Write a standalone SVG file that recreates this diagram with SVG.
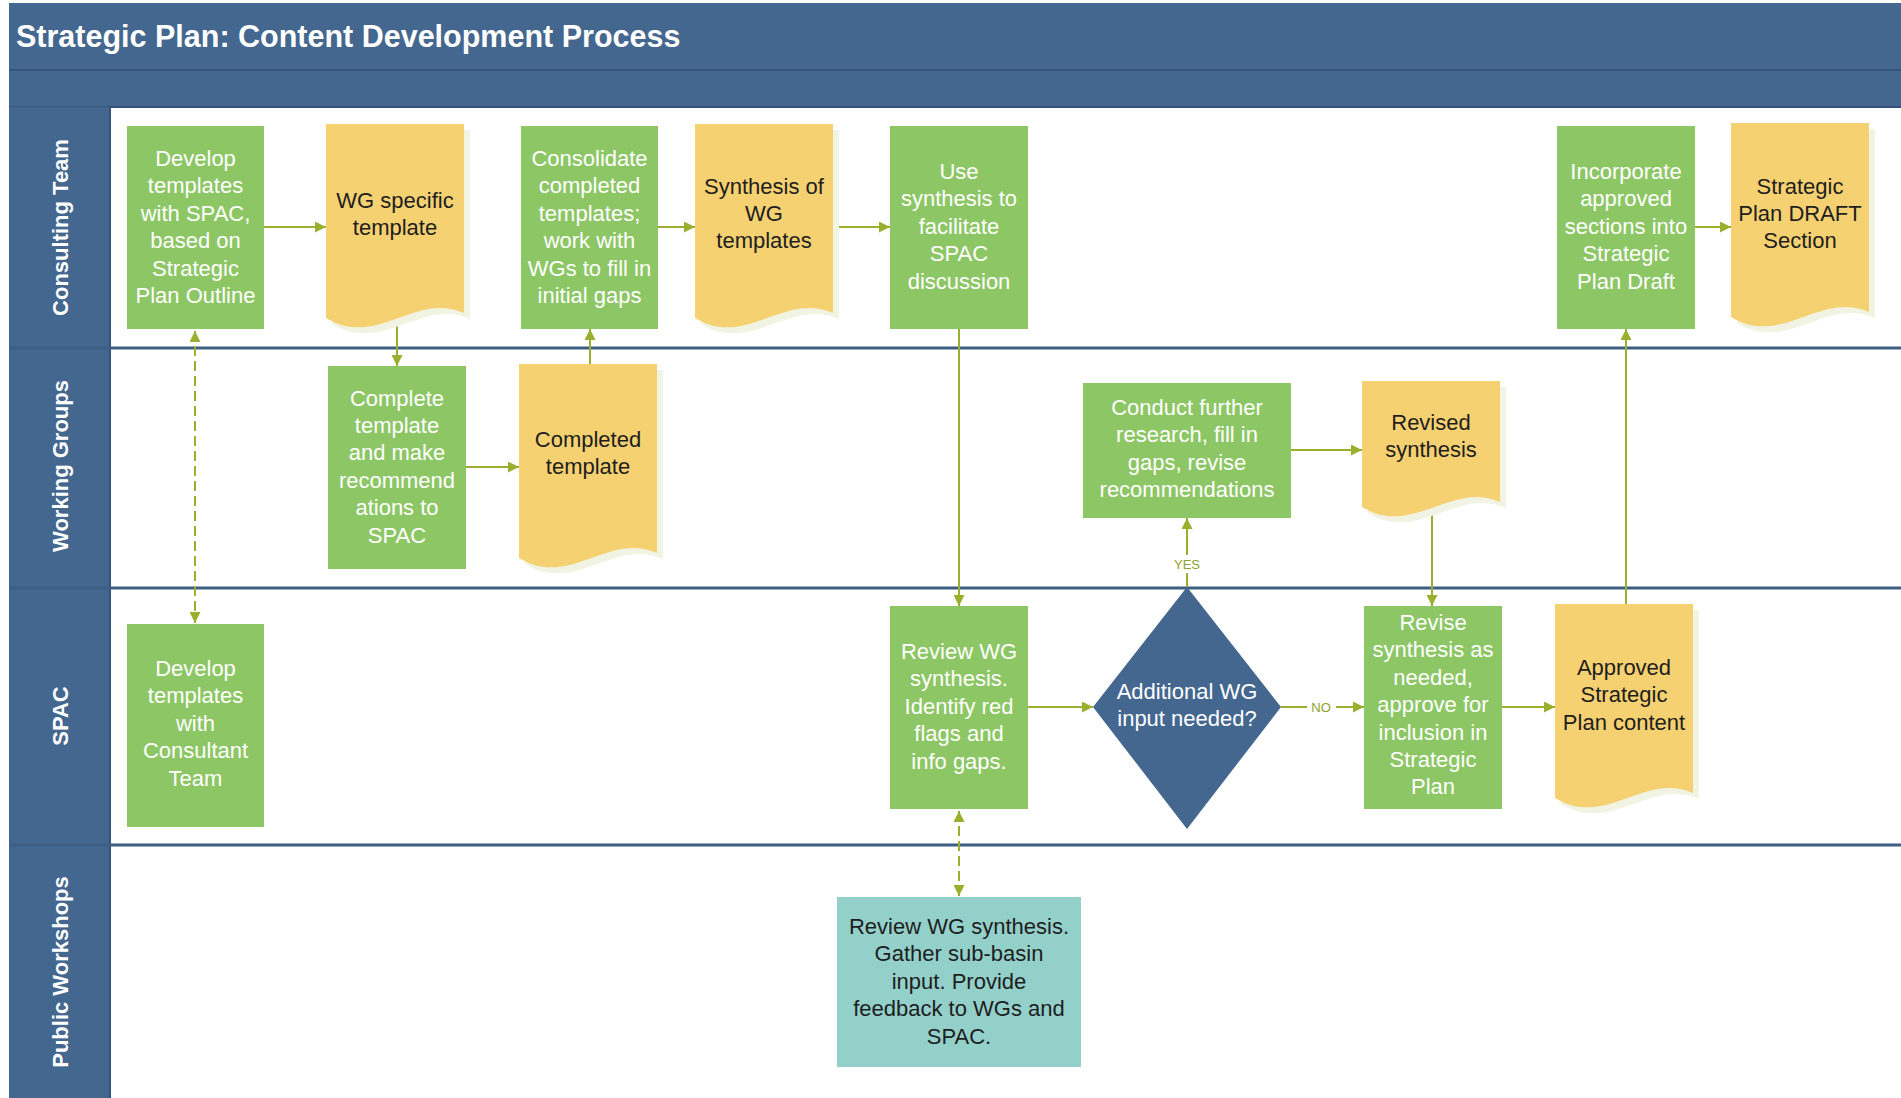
<svg xmlns="http://www.w3.org/2000/svg" width="1901" height="1098" viewBox="0 0 1901 1098">
<style>
.bar{fill:#44678F}
.green{fill:#8DC665}
.doc{fill:#F5D171}
.sh{fill:#F1F3E3}
.teal{fill:#93D0CA}
.dia{fill:#44678F}
.lane{stroke:#3E5E84;stroke-width:3}
.wt{fill:#FFFFFF;font-family:"Liberation Sans",Arial,sans-serif;font-size:22px;text-anchor:middle}
.dk{fill:#1E1E1E;font-family:"Liberation Sans",Arial,sans-serif;font-size:22px;text-anchor:middle}
.hd{fill:#FFFFFF;font-family:"Liberation Sans",Arial,sans-serif;font-size:22px;font-weight:bold;text-anchor:middle}
.ttl{fill:#FFFFFF;font-family:"Liberation Sans",Arial,sans-serif;font-size:30.5px;font-weight:bold}
.con{fill:none;stroke:#9AAF2D;stroke-width:2}
.dash{stroke-dasharray:10 5}
.lbl{fill:#8FA22B;font-family:"Liberation Sans",Arial,sans-serif;font-size:13px;text-anchor:middle}
</style>
<defs>
<marker id="ah" markerUnits="userSpaceOnUse" markerWidth="11" markerHeight="11" refX="11" refY="5.5" orient="auto-start-reverse" viewBox="0 0 11 11">
<path d="M0,0 L11,5.5 L0,11 z" fill="#9AAF2D"/>
</marker>
<path id="docL" d="M0,0 h138 v189 c-48,-22 -88,36 -138,5 z"/>
<path id="docS" d="M0,0 h138 v121 c-48,-22 -88,36 -138,5 z"/>
</defs>

<rect x="0" y="0" width="1901" height="1098" fill="#FFFFFF"/>

<g id="frame">
<rect class="bar" x="9" y="3" width="1892" height="104"/>
<line x1="9" y1="70" x2="1901" y2="70" stroke="#35557A" stroke-width="2"/>
<line x1="9" y1="107" x2="1901" y2="107" stroke="#35557A" stroke-width="2"/>
<text class="ttl" x="16" y="47">Strategic Plan: Content Development Process</text>
<rect class="bar" x="9" y="107" width="101" height="991"/>
<line x1="110" y1="107" x2="110" y2="1098" stroke="#35557A" stroke-width="2"/>
<line class="lane" x1="9" y1="348" x2="1901" y2="348"/>
<line class="lane" x1="9" y1="588" x2="1901" y2="588"/>
<line class="lane" x1="9" y1="845" x2="1901" y2="845"/>
<text class="hd" transform="translate(68,227.5) rotate(-90)">Consulting Team</text>
<text class="hd" transform="translate(68,466) rotate(-90)">Working Groups</text>
<text class="hd" transform="translate(68,716) rotate(-90)">SPAC</text>
<text class="hd" transform="translate(68,972) rotate(-90)">Public Workshops</text>
</g>

<g id="connectors">
<path class="con" d="M264,227 H326" marker-end="url(#ah)"/>
<path class="con" d="M397,322 V366" marker-end="url(#ah)"/>
<path class="con" d="M466,467 H519" marker-end="url(#ah)"/>
<path class="con" d="M590,364 V329" marker-end="url(#ah)"/>
<path class="con" d="M658,227 H695" marker-end="url(#ah)"/>
<path class="con" d="M839,227 H890" marker-end="url(#ah)"/>
<path class="con" d="M959,329 V606" marker-end="url(#ah)"/>
<path class="con" d="M1028,707 H1093" marker-end="url(#ah)"/>
<path class="con" d="M1187,587 V518" marker-end="url(#ah)"/>
<path class="con" d="M1291,450 H1362" marker-end="url(#ah)"/>
<path class="con" d="M1432,510 V606" marker-end="url(#ah)"/>
<path class="con" d="M1281,707 H1364" marker-end="url(#ah)"/>
<path class="con" d="M1502,707 H1555" marker-end="url(#ah)"/>
<path class="con" d="M1626,604 V329" marker-end="url(#ah)"/>
<path class="con" d="M1695,227 H1731" marker-end="url(#ah)"/>
<path class="con dash" d="M195,331 V623" marker-start="url(#ah)" marker-end="url(#ah)"/>
<path class="con dash" d="M959,811 V896" marker-start="url(#ah)" marker-end="url(#ah)"/>
<rect x="1171" y="555" width="32" height="18" fill="#FFFFFF"/>
<text class="lbl" x="1187" y="569">YES</text>
<rect x="1307" y="698" width="29" height="18" fill="#FFFFFF"/>
<text class="lbl" x="1321" y="712">NO</text>
</g>

<g id="n1">
<rect class="green" x="127" y="126" width="137" height="203"/>
<text class="wt" x="195.5" y="166"><tspan x="195.5">Develop</tspan><tspan x="195.5" dy="27.4">templates</tspan><tspan x="195.5" dy="27.4">with SPAC,</tspan><tspan x="195.5" dy="27.4">based on</tspan><tspan x="195.5" dy="27.4">Strategic</tspan><tspan x="195.5" dy="27.4">Plan Outline</tspan></text>
</g>

<g id="d1">
<use href="#docL" class="sh" x="332" y="130"/>
<use href="#docL" class="doc" x="326" y="124"/>
<text class="dk" x="395" y="207.5"><tspan x="395">WG specific</tspan><tspan x="395" dy="27.4">template</tspan></text>
</g>

<g id="n2">
<rect class="green" x="328" y="366" width="138" height="203"/>
<text class="wt" x="397" y="405.5"><tspan x="397">Complete</tspan><tspan x="397" dy="27.4">template</tspan><tspan x="397" dy="27.4">and make</tspan><tspan x="397" dy="27.4">recommend</tspan><tspan x="397" dy="27.4">ations to</tspan><tspan x="397" dy="27.4">SPAC</tspan></text>
</g>

<g id="d4">
<use href="#docL" class="sh" x="525" y="370"/>
<use href="#docL" class="doc" x="519" y="364"/>
<text class="dk" x="588" y="447"><tspan x="588">Completed</tspan><tspan x="588" dy="27.4">template</tspan></text>
</g>

<g id="n3">
<rect class="green" x="521" y="126" width="137" height="203"/>
<text class="wt" x="589.5" y="166"><tspan x="589.5">Consolidate</tspan><tspan x="589.5" dy="27.4">completed</tspan><tspan x="589.5" dy="27.4">templates;</tspan><tspan x="589.5" dy="27.4">work with</tspan><tspan x="589.5" dy="27.4">WGs to fill in</tspan><tspan x="589.5" dy="27.4">initial gaps</tspan></text>
</g>

<g id="d2">
<use href="#docL" class="sh" x="701" y="130"/>
<use href="#docL" class="doc" x="695" y="124"/>
<text class="dk" x="764" y="193.5"><tspan x="764">Synthesis of</tspan><tspan x="764" dy="27.4">WG</tspan><tspan x="764" dy="27.4">templates</tspan></text>
</g>

<g id="n5">
<rect class="green" x="890" y="126" width="138" height="203"/>
<text class="wt" x="959" y="179"><tspan x="959">Use</tspan><tspan x="959" dy="27.4">synthesis to</tspan><tspan x="959" dy="27.4">facilitate</tspan><tspan x="959" dy="27.4">SPAC</tspan><tspan x="959" dy="27.4">discussion</tspan></text>
</g>

<g id="n6">
<rect class="green" x="1557" y="126" width="138" height="203"/>
<text class="wt" x="1626" y="179"><tspan x="1626">Incorporate</tspan><tspan x="1626" dy="27.4">approved</tspan><tspan x="1626" dy="27.4">sections into</tspan><tspan x="1626" dy="27.4">Strategic</tspan><tspan x="1626" dy="27.4">Plan Draft</tspan></text>
</g>

<g id="d3">
<use href="#docL" class="sh" x="1737" y="129"/>
<use href="#docL" class="doc" x="1731" y="123"/>
<text class="dk" x="1800" y="193.5"><tspan x="1800">Strategic</tspan><tspan x="1800" dy="27.4">Plan DRAFT</tspan><tspan x="1800" dy="27.4">Section</tspan></text>
</g>

<g id="n7">
<rect class="green" x="1083" y="383" width="208" height="135"/>
<text class="wt" x="1187" y="415"><tspan x="1187">Conduct further</tspan><tspan x="1187" dy="27.4">research, fill in</tspan><tspan x="1187" dy="27.4">gaps, revise</tspan><tspan x="1187" dy="27.4">recommendations</tspan></text>
</g>

<g id="d5">
<use href="#docS" class="sh" x="1368" y="387"/>
<use href="#docS" class="doc" x="1362" y="381"/>
<text class="dk" x="1431" y="430"><tspan x="1431">Revised</tspan><tspan x="1431" dy="27.4">synthesis</tspan></text>
</g>

<g id="n8">
<rect class="green" x="127" y="624" width="137" height="203"/>
<text class="wt" x="195.5" y="676"><tspan x="195.5">Develop</tspan><tspan x="195.5" dy="27.4">templates</tspan><tspan x="195.5" dy="27.4">with</tspan><tspan x="195.5" dy="27.4">Consultant</tspan><tspan x="195.5" dy="27.4">Team</tspan></text>
</g>

<g id="n9">
<rect class="green" x="890" y="606" width="138" height="203"/>
<text class="wt" x="959" y="659"><tspan x="959">Review WG</tspan><tspan x="959" dy="27.4">synthesis.</tspan><tspan x="959" dy="27.4">Identify red</tspan><tspan x="959" dy="27.4">flags and</tspan><tspan x="959" dy="27.4">info gaps.</tspan></text>
</g>

<g id="decision">
<path class="dia" d="M1187,587 L1281,707 L1187,829 L1093,707 z"/>
<text class="wt" x="1187" y="699"><tspan x="1187">Additional WG</tspan><tspan x="1187" dy="27.4">input needed?</tspan></text>
</g>

<g id="n10">
<rect class="green" x="1364" y="606" width="138" height="203"/>
<text class="wt" x="1433" y="630"><tspan x="1433">Revise</tspan><tspan x="1433" dy="27.4">synthesis as</tspan><tspan x="1433" dy="27.4">needed,</tspan><tspan x="1433" dy="27.4">approve for</tspan><tspan x="1433" dy="27.4">inclusion in</tspan><tspan x="1433" dy="27.4">Strategic</tspan><tspan x="1433" dy="27.4">Plan</tspan></text>
</g>

<g id="d6">
<use href="#docL" class="sh" x="1561" y="610"/>
<use href="#docL" class="doc" x="1555" y="604"/>
<text class="dk" x="1624" y="675"><tspan x="1624">Approved</tspan><tspan x="1624" dy="27.4">Strategic</tspan><tspan x="1624" dy="27.4">Plan content</tspan></text>
</g>

<g id="n11">
<rect class="teal" x="837" y="897" width="244" height="170"/>
<text class="dk" x="959" y="934"><tspan x="959">Review WG synthesis.</tspan><tspan x="959" dy="27.4">Gather sub-basin</tspan><tspan x="959" dy="27.4">input. Provide</tspan><tspan x="959" dy="27.4">feedback to WGs and</tspan><tspan x="959" dy="27.4">SPAC.</tspan></text>
</g>
</svg>
